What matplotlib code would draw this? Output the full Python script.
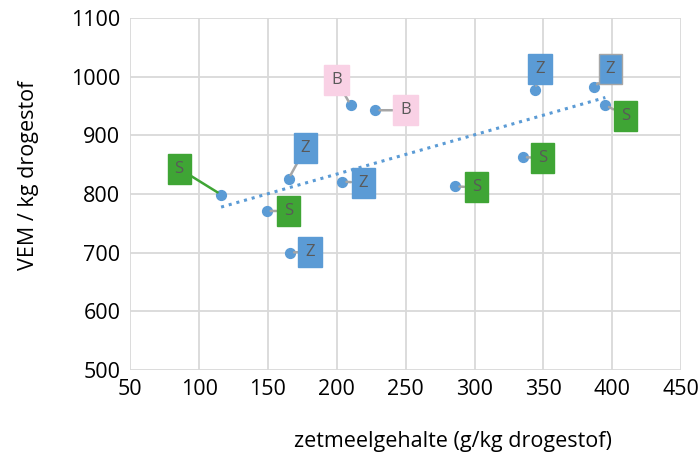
import numpy as np
import matplotlib
matplotlib.use("Agg")
import matplotlib.pyplot as plt

plt.rcParams['font.family'] = ['Open Sans', 'DejaVu Sans']

# zetmeelgehalte (g/kg ds) en VEM per punt, met het type label
zetmeel = [116, 165, 149, 166, 204, 210, 228, 344, 387, 395, 335, 286]
vem = [799, 826, 771, 700, 821, 952, 943, 978, 982, 952, 863, 813]
labels = ['S', 'Z', 'S', 'Z', 'Z', 'B', 'B', 'Z', 'Z', 'S', 'S', 'S']

# label-offsets in pixels (dx, dy)
offsets = [(-42, 26), (17, 31), (22, 0), (20, 1), (21, -1), (-14, 25),
           (30, 0), (5, 21), (16, 18), (20, -11), (20, -1), (21, -1)]

box_colors = {'S': '#3fa535', 'Z': '#5b9bd5', 'B': '#f9d1e5'}

fig = plt.figure(figsize=(7, 4.57), dpi=100)
ax = fig.add_axes([0.186, 0.191, 0.787, 0.769])

ax.scatter(zetmeel, vem, s=50, color='#5b9bd5', zorder=3)

# lineaire trendlijn
a, b = np.polyfit(zetmeel, vem, 1)
xs = np.array([min(zetmeel), max(zetmeel)])
ax.plot(xs, a * xs + b, linestyle=(0, (1, 1.6)), color='#5b9bd5', lw=2.2, zorder=2)

for x, y, lab, (dx, dy) in zip(zetmeel, vem, labels, offsets):
    lc = '#3fa535' if (dx < -30 and lab == 'S') else '#a6a6a6'
    ec = '#a6a6a6' if lab == 'Z' and dx == 16 else box_colors[lab]
    ax.annotate(lab, xy=(x, y), xytext=(dx, dy), textcoords='offset pixels',
                ha='center', va='center', fontsize=12, color='#595959',
                bbox=dict(boxstyle='square,pad=0.42', fc=box_colors[lab], ec=ec, lw=1),
                arrowprops=dict(arrowstyle='-', color=lc, lw=1.8,
                                shrinkA=0, shrinkB=3),
                zorder=4)

ax.set_xlim(50, 450)
ax.set_ylim(500, 1100)
ax.set_xticks(range(50, 451, 50))
ax.set_yticks(range(500, 1101, 100))
ax.grid(True, color='#d9d9d9', lw=1.3)
ax.set_axisbelow(True)
for s in ax.spines.values():
    s.set_visible(False)
ax.tick_params(length=0, labelsize=15.5, pad=7)

ax.set_xlabel('zetmeelgehalte (g/kg drogestof)', fontsize=15.5)
ax.set_ylabel('VEM / kg drogestof', fontsize=15.5)
ax.xaxis.set_label_coords(0.585, -0.175)
ax.yaxis.set_label_coords(-0.165, 0.554)

fig.savefig('out.png', dpi=100)
